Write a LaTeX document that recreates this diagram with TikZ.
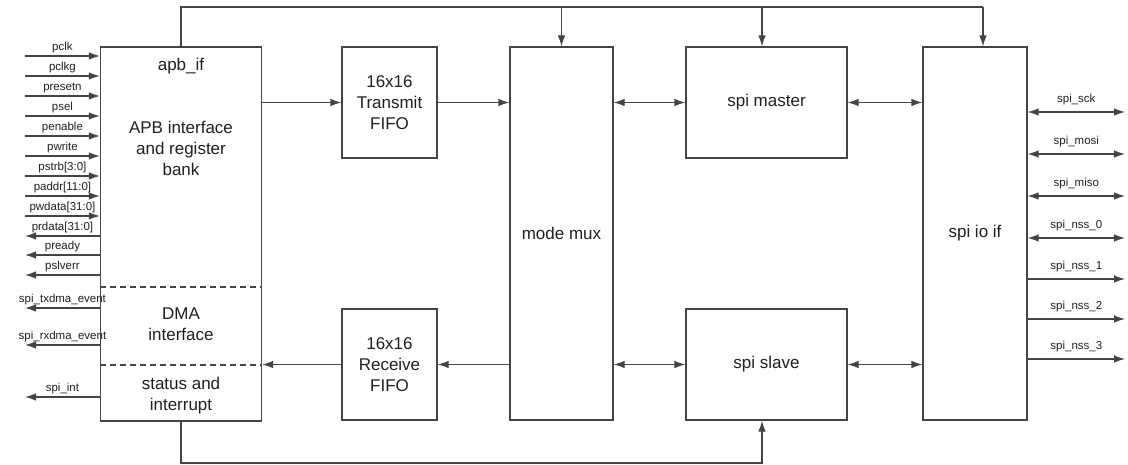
\documentclass[tikz,border=0pt]{standalone}
\usepackage{fontspec}
\setmainfont{Liberation Sans}
\usetikzlibrary{arrows.meta}
\definecolor{wirecol}{HTML}{444444}
\begin{document}
\begin{tikzpicture}[x=1pt,y=-1pt]
      \tikzstyle{every node}=[text=black!88]
      \tikzstyle{block}=[draw=wirecol, line width=1.2pt, rectangle, inner sep=0pt]
      \tikzstyle{txt}=[align=center, font=\fontsize{17}{21}\selectfont]
      \tikzstyle{sig}=[font=\fontsize{11.5}{13}\selectfont, inner sep=3pt]
      \tikzstyle{link}=[draw=wirecol, line width=1.2pt]
      \tikzstyle{tip}=[link, -{Latex[length=11pt,width=7.5pt]}]
      \tikzstyle{both}=[link, {Latex[length=11pt,width=7.5pt]}-{Latex[length=11pt,width=7.5pt]}]

      \useasboundingbox (0,0) rectangle (1128,465);

      % blocks
      \node[block, minimum width=161pt, minimum height=374pt] (apb) at (181,234) {};
      \node[block, minimum width=95pt, minimum height=111pt] (txfifo) at (389.5,102.5) {};
      \node[block, minimum width=95pt, minimum height=111pt] (rxfifo) at (389.5,364.5) {};
      \node[block, minimum width=103pt, minimum height=373pt] (mux) at (561.5,233.5) {};
      \node[block, minimum width=161pt, minimum height=111pt] (master) at (766.5,102.5) {};
      \node[block, minimum width=161pt, minimum height=111pt] (slave) at (766.5,364.5) {};
      \node[block, minimum width=104pt, minimum height=373pt] (ioif) at (975,233.5) {};

      % texts
      \node[txt] (apbname) at (181,66) {apb\_if};
      \node[txt] (apbreg) at (181,148) {APB interface\\and register\\bank};
      \node[txt] (apbdma) at (181,324) {DMA\\interface};
      \node[txt] (apbint) at (181,395.5) {status and\\interrupt};
      \node[txt] (txtext) at (txfifo) {16x16\\Transmit\\FIFO};
      \node[txt] (rxtext) at (rxfifo) {16x16\\Receive\\FIFO};
      \node[txt] (muxtext) at (mux) {mode mux};
      \node[txt] (mastertext) at (master) {spi master};
      \node[txt] (slavetext) at (slave) {spi slave};
      \node[txt] (iotext) at (ioif) {spi io if};

      % dashed separators
      \coordinate (dmatop) at (0,287);
      \coordinate (dmabot) at (0,365);
      \draw[link, dash pattern=on 6pt off 4pt] (apb.west |- dmatop) -- (apb.east |- dmatop);
      \draw[link, dash pattern=on 6pt off 4pt] (apb.west |- dmabot) -- (apb.east |- dmabot);

      % apb side signals
      \foreach \y/\name in {56/pclk, 76/pclkg, 96/presetn, 116/psel, 136/penable,
                            156/pwrite, 176/{pstrb[3:0]}, 196/{paddr[11:0]}, 216/{pwdata[31:0]}} {
        \coordinate (in\y) at (25,\y);
        \draw[tip] (in\y) -- (in\y -| apb.west) node[midway, above, sig] {\name};
      }
      \foreach \y/\name in {236/{prdata[31:0]}, 255/pready, 275/pslverr,
                            308/spi\_txdma\_event, 345/spi\_rxdma\_event, 397/spi\_int} {
        \coordinate (out\y) at (25,\y);
        \draw[tip] (out\y -| apb.west) -- (out\y) node[midway, above, sig] {\name};
      }

      % spi side signals
      \foreach \y/\name in {112/spi\_sck, 154/spi\_mosi, 196/spi\_miso, 238/spi\_nss\_0} {
        \coordinate (pad\y) at (1125,\y);
        \draw[both] (pad\y -| ioif.east) -- (pad\y) node[midway, above=4pt, sig] {\name};
      }
      \foreach \y/\name in {279/spi\_nss\_1, 319/spi\_nss\_2, 359/spi\_nss\_3} {
        \coordinate (pad\y) at (1125,\y);
        \draw[tip] (pad\y -| ioif.east) -- (pad\y) node[midway, above=4pt, sig] {\name};
      }

      % data path
      \draw[tip] (apb.east |- txfifo) -- (txfifo.west);
      \draw[tip] (txfifo.east) -- (txfifo.east -| mux.west);
      \draw[both] (mux.east |- master) -- (master.west);
      \draw[both] (master.east) -- (master.east -| ioif.west);
      \draw[tip] (mux.west |- rxfifo) -- (rxfifo.east);
      \draw[tip] (rxfifo.west) -- (rxfifo.west -| apb.east);
      \draw[both] (mux.east |- slave) -- (slave.west);
      \draw[both] (slave.east) -- (slave.east -| ioif.west);

      % control bus
      \coordinate (topr) at (983,7);
      \coordinate (topm) at (762,7);
      \coordinate (botr) at (762,463);
      \draw[link] (apb.north) |- (topr);
      \draw[tip] (topr) -- (topr |- ioif.north);
      \draw[tip] (mux.north |- topr) -- (mux.north);
      \draw[tip] (topm) -- (topm |- master.north);
      \draw[tip] (apb.south) |- (botr) -- (botr |- slave.south);
\end{tikzpicture}
\end{document}
